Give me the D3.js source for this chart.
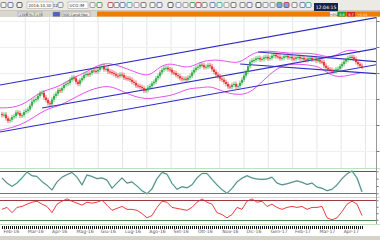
<!DOCTYPE html>
<html>
<head>
<meta charset="utf-8">
<script src="https://cdn.jsdelivr.net/npm/d3@7/dist/d3.min.js"></script>
<style>
  body { margin: 0; background: #fff; }
  svg { display: block; font-family: "DejaVu Sans", sans-serif; }
</style>
</head>
<body>
<svg id="chart" width="380" height="240"></svg>
<script>
// month labels along the bottom axis
const months = ['Feb-16', 'Mar-16', 'Apr-16', 'Mag-16', 'Giu-16', 'Lug-16', 'Ago-16', 'Set-16',
  'Ott-16', 'Nov-16', 'Dic-16', 'Gen-17', 'Feb-17', 'Mar-17', 'Apr-17'];

// daily closes
const closes = [8.69, 8.70, 8.63, 8.58, 8.60, 8.65, 8.67, 8.74, 8.73, 8.68, 8.69, 8.75, 8.77, 8.80, 8.87,
  8.95, 8.98, 9.00, 9.06, 9.11, 9.12, 9.03, 8.98, 8.92, 8.90, 8.99, 9.06, 9.10, 9.17, 9.16, 9.21, 9.27,
  9.29, 9.31, 9.37, 9.41, 9.40, 9.33, 9.29, 9.36, 9.40, 9.46, 9.48, 9.47, 9.50, 9.55, 9.54, 9.53, 9.56,
  9.61, 9.63, 9.57, 9.58, 9.53, 9.52, 9.50, 9.48, 9.45, 9.44, 9.47, 9.46, 9.41, 9.40, 9.39, 9.37, 9.33,
  9.31, 9.26, 9.25, 9.23, 9.21, 9.16, 9.17, 9.22, 9.25, 9.30, 9.33, 9.40, 9.44, 9.51, 9.56, 9.59, 9.60,
  9.57, 9.56, 9.51, 9.50, 9.46, 9.44, 9.40, 9.38, 9.39, 9.37, 9.41, 9.44, 9.51, 9.56, 9.60, 9.62, 9.66,
  9.65, 9.61, 9.62, 9.65, 9.63, 9.57, 9.52, 9.47, 9.44, 9.39, 9.37, 9.33, 9.29, 9.24, 9.23, 9.27, 9.29,
  9.24, 9.25, 9.31, 9.37, 9.45, 9.52, 9.63, 9.71, 9.74, 9.75, 9.78, 9.79, 9.76, 9.77, 9.80, 9.81, 9.78,
  9.79, 9.83, 9.85, 9.82, 9.81, 9.78, 9.79, 9.82, 9.83, 9.80, 9.81, 9.78, 9.77, 9.80, 9.81, 9.78, 9.79,
  9.76, 9.75, 9.78, 9.79, 9.76, 9.77, 9.74, 9.75, 9.72, 9.71, 9.64, 9.60, 9.57, 9.56, 9.53, 9.54, 9.57,
  9.58, 9.63, 9.67, 9.72, 9.75, 9.79, 9.81, 9.80, 9.77, 9.71, 9.67, 9.64, 9.62];

// bollinger envelope, one value every 5 sessions
const upperBand = [8.83, 8.83, 8.87, 8.98, 9.13, 9.19, 9.25, 9.38, 9.46, 9.56, 9.67, 9.69, 9.63, 9.56,
  9.48, 9.44, 9.63, 9.69, 9.63, 9.60, 9.71, 9.75, 9.75, 9.71, 9.69, 9.85, 9.92, 9.92, 9.90, 9.88, 9.88,
  9.88, 9.85, 9.79, 9.88, 9.96, 9.90];
const lowerBand = [8.40, 8.44, 8.50, 8.60, 8.73, 8.83, 8.87, 8.98, 9.08, 9.17, 9.23, 9.25, 9.17, 9.08,
  9.02, 9.00, 9.04, 9.06, 9.13, 9.21, 9.21, 9.25, 9.17, 9.10, 9.08, 9.12, 9.29, 9.48, 9.62, 9.67, 9.67,
  9.65, 9.62, 9.46, 9.42, 9.46, 9.50];

// oscillators (0-100)
const oscA = [62, 48, 39, 48, 62, 78, 68, 66, 52, 42, 29, 51, 64, 71, 77, 64, 43, 70, 66, 60, 62, 56, 34,
  48, 62, 48, 51, 40, 27, 19, 32, 60, 77, 72, 47, 31, 38, 35, 43, 62, 74, 74, 58, 43, 30, 20, 33, 51, 61,
  68, 62, 59, 58, 59, 64, 48, 43, 46, 50, 54, 50, 44, 48, 37, 34, 27, 31, 43, 60, 73, 81, 62, 24];
const oscB = [52, 58, 42, 58, 61, 68, 74, 77, 68, 61, 42, 68, 77, 84, 77, 71, 65, 74, 71, 74, 80, 65, 49,
  55, 61, 52, 52, 49, 39, 26, 33, 58, 77, 74, 58, 55, 52, 49, 58, 74, 84, 74, 68, 42, 36, 26, 36, 58, 52,
  77, 84, 74, 77, 61, 68, 58, 52, 58, 61, 58, 61, 52, 58, 58, 61, 26, 20, 26, 45, 68, 77, 68, 33];
const oscLevels = [20, 80];

// hand drawn trend lines: [month, price, month, price]
const trendLines = [
  [-0.04, 9.269, 15.6, 10.577],
  [-0.04, 8.365, 15.6, 9.673],
  [1.69, 8.827, 15.6, 9.981],
  [10.58, 9.904, 15.6, 9.712],
  [9.84, 9.673, 15.6, 9.481]
];

const priceTicks = [8.0, 8.5, 9.0, 9.5, 10.0, 10.5];

const W = 380;
const axisX = 376;
const main = { top: 17, bottom: 168 };
const p1 = { top: 168, bottom: 197 };
const p2 = { top: 197, bottom: 224 };

const svg = d3.select('#chart');
svg.append('rect').attr('width', W).attr('height', 240).attr('fill', '#fff');

// ---- scales
const x = d3.scaleLinear().domain([0, 15]).range([1, 1 + 15 * 24.3]);
const candleT = d3.scaleLinear().domain([0, closes.length - 1]).range([0.041, 14.856]);
const bandT = d3.scaleLinear().domain([0, upperBand.length - 1]).range([-0.041, 14.77]);
const oscT = d3.scaleLinear().domain([0, oscA.length - 1]).range([0.041, 14.856]);

const y = d3.scaleLinear().domain([7.673, 10.577]).range([main.bottom, main.top]);
const yA = d3.scaleLinear().domain([10, 89]).range([p1.bottom, p1.top]);
const yB = d3.scaleLinear().domain([7, 90]).range([p2.bottom, p2.top]);

// ---- clips
const defs = svg.append('defs');
[['clipMain', main], ['clipA', p1], ['clipB', p2]].forEach(([id, p]) => {
  defs.append('clipPath').attr('id', id)
    .append('rect').attr('x', 0).attr('y', p.top).attr('width', axisX).attr('height', p.bottom - p.top);
});

// ---- main grid
const grid = svg.append('g');
grid.selectAll('.vg').data(d3.range(1, 16)).enter().append('line')
  .attr('x1', d => x(d)).attr('x2', d => x(d))
  .attr('y1', main.top).attr('y2', main.bottom)
  .attr('stroke', '#e6e6ea').attr('stroke-width', 1);
grid.selectAll('.hg').data(priceTicks).enter().append('line')
  .attr('x1', 0).attr('x2', axisX)
  .attr('y1', d => Math.round(y(d)) + 0.5).attr('y2', d => Math.round(y(d)) + 0.5)
  .attr('stroke', '#efefef');

// ---- price panel
const pricePanel = svg.append('g').attr('clip-path', 'url(#clipMain)');

const bandLine = d3.line()
  .x((d, i) => x(bandT(i)))
  .y(d => y(d))
  .curve(d3.curveBasis);
[upperBand, lowerBand].forEach(b => {
  pricePanel.append('path').attr('d', bandLine(b))
    .attr('fill', 'none').attr('stroke', '#e23fe6').attr('stroke-width', 0.9);
});

pricePanel.selectAll('.trend').data(trendLines).enter().append('line')
  .attr('x1', d => x(d[0])).attr('y1', d => y(d[1]))
  .attr('x2', d => x(d[2])).attr('y2', d => y(d[3]))
  .attr('stroke', '#2b2bc4').attr('stroke-width', 1.2);

const wick = 0.045;
const candles = closes.map((c, i) => {
  const o = i ? closes[i - 1] : c + 0.02;
  return { t: candleT(i), o, c, h: Math.max(o, c) + wick, l: Math.min(o, c) - wick };
});
const candleG = pricePanel.selectAll('.candle').data(candles).enter().append('g');
candleG.append('line')
  .attr('x1', d => x(d.t)).attr('x2', d => x(d.t))
  .attr('y1', d => y(d.h)).attr('y2', d => y(d.l))
  .attr('stroke', d => d.c >= d.o ? '#27a83c' : '#e3262b').attr('stroke-width', 0.7);
candleG.append('rect')
  .attr('x', d => x(d.t) - 0.85).attr('width', 1.7)
  .attr('y', d => y(Math.max(d.o, d.c)))
  .attr('height', d => Math.max(1, Math.abs(y(d.o) - y(d.c))))
  .attr('fill', d => d.c >= d.o ? '#27a83c' : '#e3262b');

// ---- oscillator panels
function levels(g, scale) {
  g.selectAll('.lvl').data(oscLevels).enter().append('line')
    .attr('x1', 0).attr('x2', axisX)
    .attr('y1', d => Math.round(scale(d)) + 0.5).attr('y2', d => Math.round(scale(d)) + 0.5)
    .attr('stroke', d => d > 50 ? '#9b3b3b' : '#4f8a5c').attr('stroke-width', 1);
}

const gA = svg.append('g').attr('clip-path', 'url(#clipA)');
levels(gA, yA);
const lineA = d3.line().x((d, i) => x(oscT(i))).y(d => yA(d));
gA.append('path').attr('d', lineA(oscA)).attr('fill', 'none')
  .attr('stroke', '#8fded0').attr('stroke-width', 1.6);
gA.append('path').attr('d', lineA(oscA)).attr('fill', 'none')
  .attr('stroke', '#5d6b6b').attr('stroke-width', 0.8);

const gB = svg.append('g').attr('clip-path', 'url(#clipB)');
levels(gB, yB);
const lineB = d3.line().x((d, i) => x(oscT(i))).y(d => yB(d));
gB.append('path').attr('d', lineB(oscB)).attr('fill', 'none')
  .attr('stroke', '#e8262a').attr('stroke-width', 0.9);

// panel separators
svg.selectAll('.sep').data([main.bottom, p1.bottom, p2.bottom]).enter().append('line')
  .attr('x1', 0).attr('x2', W)
  .attr('y1', d => d + 0.5).attr('y2', d => d + 0.5)
  .attr('stroke', '#bfe2c2');

// ---- right axis (labels fall outside the window)
svg.append('line').attr('x1', axisX + 0.5).attr('x2', axisX + 0.5)
  .attr('y1', main.top).attr('y2', p2.bottom).attr('stroke', '#9a9a9a');
svg.append('g').attr('transform', `translate(${axisX + 0.5},0)`)
  .call(d3.axisRight(y).tickValues(priceTicks).tickSize(3).tickFormat(''));
svg.append('g').attr('transform', `translate(${axisX + 0.5},0)`)
  .call(d3.axisRight(yA).tickValues([20, 40, 60, 80]).tickSize(2).tickFormat(''));
svg.append('g').attr('transform', `translate(${axisX + 0.5},0)`)
  .call(d3.axisRight(yB).tickValues([20, 40, 60, 80]).tickSize(2).tickFormat(''));
svg.selectAll('.domain').remove();
svg.selectAll('.tick line').attr('stroke', '#777');

// ---- bottom time axis
svg.append('g').attr('transform', `translate(0,${p2.bottom + 2})`)
  .call(d3.axisBottom(x).tickValues(candles.map(d => d.t)).tickSize(3).tickFormat(''))
  .call(g => g.select('.domain').remove())
  .call(g => g.selectAll('.tick line').attr('stroke', '#111').attr('stroke-width', 1));

svg.append('g').attr('transform', `translate(0,${p2.bottom + 6})`)
  .call(d3.axisBottom(x).tickValues(d3.range(months.length)).tickSize(0).tickFormat(i => months[i]))
  .call(g => g.select('.domain').remove())
  .call(g => g.selectAll('text')
    .attr('text-anchor', 'start').attr('dx', 2).attr('dy', 0)
    .attr('font-size', 4.6).attr('fill', '#555').attr('font-family', '"DejaVu Sans", sans-serif'));

svg.append('rect').attr('x', 0).attr('y', 236).attr('width', W).attr('height', 4).attr('fill', '#d6d3cb');

// ---- window chrome: toolbar and status strip
svg.append('rect').attr('x', 0).attr('y', 0).attr('width', W).attr('height', 11).attr('fill', '#eceae4');
svg.append('line').attr('x1', 0).attr('x2', W).attr('y1', 10.5).attr('y2', 10.5).attr('stroke', '#c9c6bd');

const iconColors = ['#6a6a6a', '#4a5bb0', '#3a3a3a', '#6d7fa8', '#888', '#3c8a3c', '#b03030', '#707070',
  '#4c68b8', '#2aa0a0', '#909090', '#5b5b5b'];
const iconX = [1, 8, 17, 58, 90, 97, 108, 114, 120, 127, 134, 141, 150, 157, 168, 176, 183, 190, 196,
  202, 210, 217, 224, 231, 240, 247, 256, 263, 270, 277, 284, 292, 300, 306];
svg.selectAll('.icon').data(iconX).enter().append('rect')
  .attr('x', d => d).attr('y', 2.5).attr('width', 5).attr('height', 5).attr('rx', 1)
  .attr('fill', d => [277, 284].includes(d) ? '#7ea4e6' : '#f4f4f4')
  .attr('stroke', (d, i) => iconColors[i % iconColors.length]).attr('stroke-width', 0.8);

[[27, 26, '2016.10.30 12'], [68, 20, 'UCG IM']].forEach(([bx, bw, label]) => {
  svg.append('rect').attr('x', bx).attr('y', 2).attr('width', bw).attr('height', 6.5)
    .attr('fill', '#fff').attr('stroke', '#a8a8a8').attr('stroke-width', 0.6);
  svg.append('text').attr('x', bx + 1.5).attr('y', 7).attr('font-size', 4).attr('fill', '#333').text(label);
});

svg.append('rect').attr('x', 314).attr('y', 3).attr('width', 24).attr('height', 8).attr('fill', '#13244a');
svg.append('text').attr('x', 326).attr('y', 9.1).attr('text-anchor', 'middle')
  .attr('font-size', 4.6).attr('fill', '#fff').text('12:04:15');

svg.append('rect').attr('x', 0).attr('y', 11).attr('width', W).attr('height', 6).attr('fill', '#d9d6ce');
svg.append('rect').attr('x', 97).attr('y', 11.5).attr('width', W - 97).attr('height', 5).attr('fill', '#f27c00');

[[18, 9, '1396'], [28, 6, '5L'], [35, 7, '135'], [53, 7, ''], [62, 28, '500 Candl Hac']].forEach(([tx, tw, label], i) => {
  svg.append('rect').attr('x', tx).attr('y', 12).attr('width', tw).attr('height', 4.5)
    .attr('fill', i === 3 ? '#4f5fc8' : '#ecebe6').attr('stroke', '#8c8c8c').attr('stroke-width', 0.5);
  svg.append('text').attr('x', tx + 1).attr('y', 15.6).attr('font-size', 3.4).attr('fill', '#333').text(label);
});

[[330, 7, '#f3f3f3', '#333', '+0%'], [338, 8, '#1f9e2c', '#fff', '9.6'], [347, 8, '#d42020', '#fff', '9.7']].forEach(([bx, bw, fill, ink, label]) => {
  svg.append('rect').attr('x', bx).attr('y', 12).attr('width', bw).attr('height', 4.5).attr('fill', fill);
  svg.append('text').attr('x', bx + bw / 2).attr('y', 15.7).attr('text-anchor', 'middle')
    .attr('font-size', 3.4).attr('fill', ink).text(label);
});
svg.append('text').attr('x', 357).attr('y', 15.7).attr('font-size', 3.4).attr('fill', '#fbe3c8').text('+0.04');
</script>
</body>
</html>
